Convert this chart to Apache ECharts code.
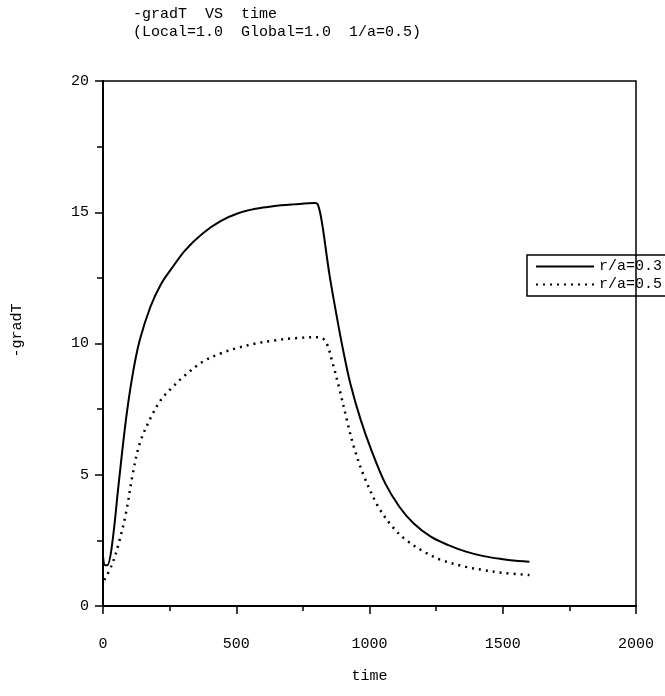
<!DOCTYPE html>
<html>
<head>
<meta charset="utf-8">
<script src="https://cdn.jsdelivr.net/npm/echarts@6/dist/echarts.min.js"></script>
<style>html,body{margin:0;padding:0;background:#fff}#c{width:665px;height:696px}</style>
</head>
<body>
<div id="c"></div>
<script>
var titleLines = ["-gradT  VS  time", "(Local=1.0  Global=1.0  1/a=0.5)"];
var xName = "time";
var yName = "-gradT";
var seriesNames = ["r/a=0.3", "r/a=0.5"];
var xTicks = [0, 500, 1000, 1500, 2000];
var yTicks = [0, 5, 10, 15, 20];

var timeA = [0, 8, 16, 33, 59, 86, 112, 138, 178, 217, 257, 309, 375, 441, 507, 572, 638, 717, 795, 807, 822, 849, 875, 901, 928, 967, 1007, 1059, 1112, 1165, 1230, 1296, 1362, 1428, 1494, 1559, 1600];
var valA  = [1.9, 1.55, 1.55, 2.26, 4.67, 7.09, 8.86, 10.13, 11.40, 12.25, 12.85, 13.56, 14.20, 14.66, 14.96, 15.13, 15.23, 15.30, 15.35, 15.27, 14.58, 12.67, 11.15, 9.75, 8.48, 7.09, 5.94, 4.67, 3.78, 3.15, 2.64, 2.32, 2.07, 1.90, 1.79, 1.71, 1.69];

var timeB = [5, 33, 59, 86, 112, 138, 178, 217, 257, 309, 375, 441, 507, 572, 638, 717, 809, 836, 862, 888, 915, 941, 980, 1033, 1086, 1138, 1204, 1270, 1362, 1428, 1494, 1600];
var valB  = [0.99, 1.56, 2.39, 3.53, 5.05, 6.20, 7.15, 7.85, 8.30, 8.80, 9.31, 9.62, 9.84, 10.0, 10.11, 10.20, 10.24, 10.07, 9.24, 8.23, 7.09, 6.07, 4.93, 3.78, 3.02, 2.51, 2.07, 1.75, 1.49, 1.37, 1.27, 1.18];

function zip(a, b) { return a.map(function (v, i) { return [v, b[i]]; }); }

var font = "Liberation Mono";
var chart = echarts.init(document.getElementById('c'), null, {renderer: 'canvas'});
chart.setOption({
  backgroundColor: '#fff',
  animation: false,
  title: {
    text: titleLines.join('\n'),
    left: 128, top: 0,
    textStyle: {fontFamily: font, fontSize: 15, fontWeight: 'normal', color: '#000', lineHeight: 18}
  },
  legend: {
    orient: 'vertical',
    left: 527, top: 255,
    data: seriesNames,
    itemWidth: 58, itemHeight: 10, itemGap: 3,
    padding: [4, 10, 4, 8],
    borderColor: '#000', borderWidth: 1.5,
    itemStyle: {opacity: 0},
    textStyle: {fontFamily: font, fontSize: 15, color: '#000'}
  },
  grid: {left: 103, right: 29, top: 81, bottom: 90, show: true, borderColor: '#000', borderWidth: 1.5},
  xAxis: {
    type: 'value', min: 0, max: 2000, interval: 500,
    name: xName, nameLocation: 'middle', nameGap: 63,
    nameTextStyle: {fontFamily: font, fontSize: 15, color: '#000'},
    axisLine: {show: true, onZero: false, lineStyle: {color: '#000', width: 2}},
    axisTick: {show: true, inside: false, length: 8, lineStyle: {color: '#000', width: 1.5}},
    minorTick: {show: true, splitNumber: 2, length: 5, lineStyle: {color: '#000', width: 1.5}},
    splitLine: {show: false},
    axisLabel: {margin: 31, fontFamily: font, fontSize: 15, color: '#000',
      formatter: function (v) { return xTicks.indexOf(v) >= 0 ? String(v) : ''; }}
  },
  yAxis: {
    type: 'value', min: 0, max: 20, interval: 5,
    name: yName, nameLocation: 'middle', nameGap: 78, nameRotate: 90,
    nameTextStyle: {fontFamily: font, fontSize: 15, color: '#000', padding: [0, 0, 0, 26]},
    axisLine: {show: true, onZero: false, lineStyle: {color: '#000', width: 2}},
    axisTick: {show: true, inside: false, length: 8, lineStyle: {color: '#000', width: 1.5}},
    minorTick: {show: true, splitNumber: 2, length: 6, lineStyle: {color: '#000', width: 1.5}},
    splitLine: {show: false},
    axisLabel: {margin: 14, fontFamily: font, fontSize: 15, color: '#000',
      formatter: function (v) { return yTicks.indexOf(v) >= 0 ? String(v) : ''; }}
  },
  series: [
    {name: seriesNames[0], type: 'line', data: zip(timeA, valA), smooth: 0.35, symbol: 'none',
     lineStyle: {color: '#000', width: 2, type: 'solid'}, itemStyle: {color: '#000'}},
    {name: seriesNames[1], type: 'line', data: zip(timeB, valB), smooth: 0.35, symbol: 'none',
     lineStyle: {color: '#000', width: 2.5, type: [2, 5]}, itemStyle: {color: '#000'}}
  ]
});
</script>
</body>
</html>
